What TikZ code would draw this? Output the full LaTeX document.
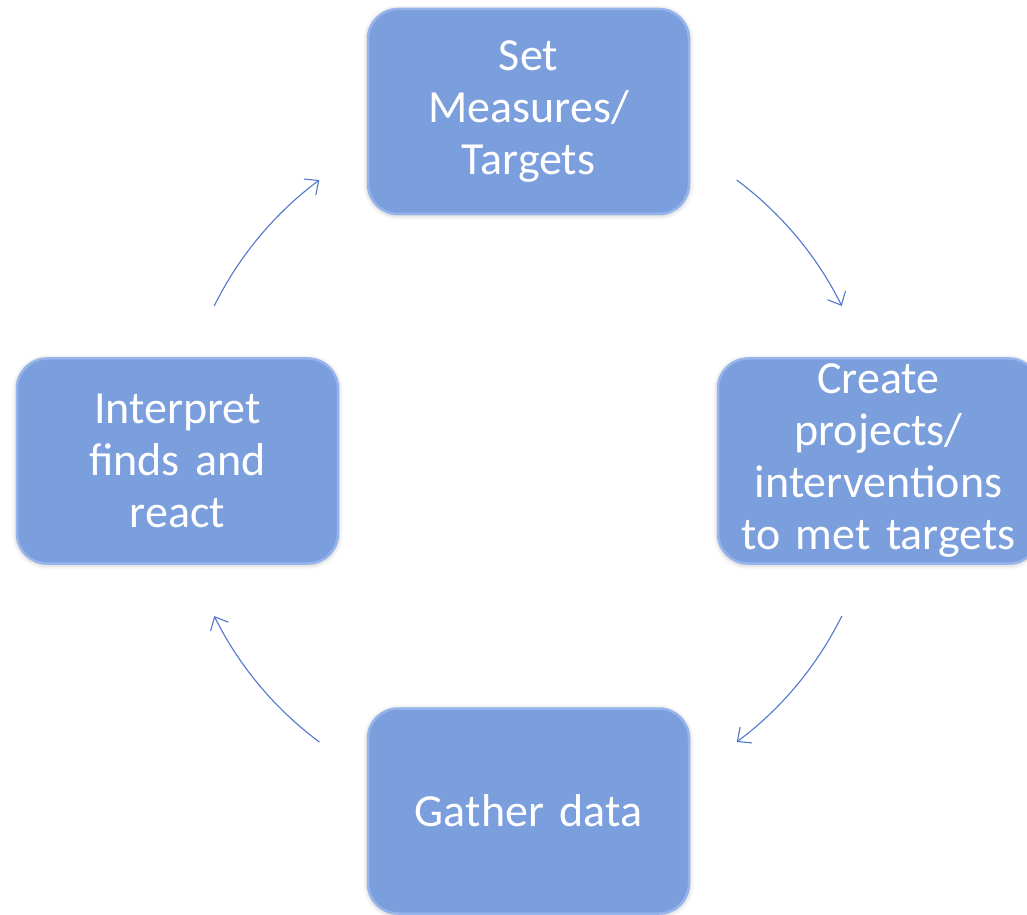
\documentclass[tikz,border=0pt]{standalone}
\usepackage{fontspec}
\setmainfont{Carlito}
\usetikzlibrary{arrows.meta,shadows.blur}
\definecolor{boxblue}{RGB}{123,158,221}
\definecolor{boxedge}{RGB}{150,180,236}
\definecolor{arrowblue}{RGB}{80,120,205}
\tikzset{
  stepbox/.style={rectangle, rounded corners=30pt, fill=boxblue, draw=boxedge, line width=2.5pt,
    minimum width=321pt, minimum height=205pt, text width=300pt, align=center,
    text=white, font=\fontsize{46pt}{52pt}\selectfont,
    blur shadow={shadow xshift=0pt, shadow yshift=-1pt, shadow blur radius=5pt, shadow opacity=30}},
  flow/.style={draw=arrowblue, line width=1.1pt, -{Straight Barb[length=11pt,width=20pt,line width=1.1pt]}}
}
\begin{document}
\begin{tikzpicture}[x=1pt,y=1pt]
\useasboundingbox (0,0) rectangle (1027,914);
\clip (0,0) rectangle (1027,914);
\node[stepbox] (top) at (528.5,802.5) {Set\\Measures/\\Targets};
\node[stepbox] (right) at (878.5,453) {Create\\projects/\\interventions\\to met targets};
\node[stepbox] (bottom) at (528.5,103) {Gather data};
\node[stepbox] (left) at (177.5,453) {Interpret\\finds and\\react};
\coordinate (c) at (528,453);
\coordinate (a1) at ($(c)+(53.4:350)$);
\coordinate (a2) at ($(c)+(-26.3:350)$);
\coordinate (a3) at ($(c)+(233.4:350)$);
\coordinate (a4) at ($(c)+(153.7:350)$);
\draw[flow] (a1) arc[start angle=53.4, end angle=26.3, radius=350];
\draw[flow] (a2) arc[start angle=-26.3, end angle=-53.4, radius=350];
\draw[flow] (a3) arc[start angle=233.4, end angle=206.3, radius=350];
\draw[flow] (a4) arc[start angle=153.7, end angle=126.6, radius=350];
\end{tikzpicture}
\end{document}
